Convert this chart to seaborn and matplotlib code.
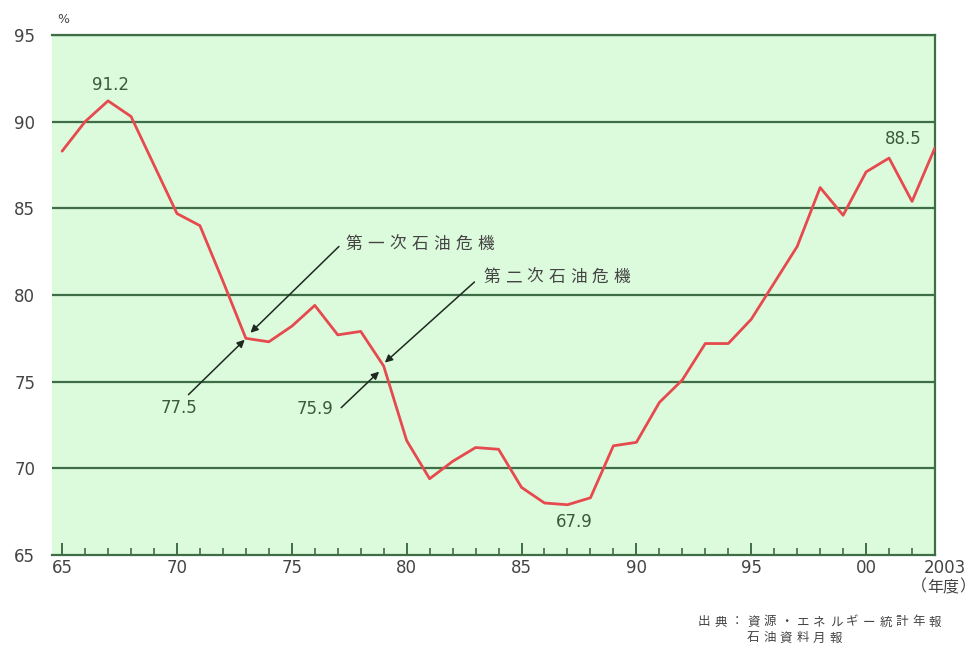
import matplotlib
matplotlib.use("Agg")
import matplotlib.pyplot as plt
import matplotlib.transforms as mtransforms
import seaborn as sns
import pandas as pd

# 原油の中東依存度（年度）
years = list(range(1965, 2004))
share = [88.3, 90.0, 91.2, 90.3, 87.5, 84.7, 84.0, 80.8, 77.5, 77.3,
         78.2, 79.4, 77.7, 77.9, 75.9, 71.6, 69.4, 70.4, 71.2, 71.1,
         68.9, 68.0, 67.9, 68.3, 71.3, 71.5, 73.8, 75.1, 77.2, 77.2,
         78.6, 80.7, 82.8, 86.2, 84.6, 87.1, 87.9, 85.4, 88.5]

y_ticks = [65, 70, 75, 80, 85, 90, 95]
x_major = [1965, 1970, 1975, 1980, 1985, 1990, 1995, 2000, 2003]
x_major_labels = ["65", "70", "75", "80", "85", "90", "95", "00", "2003"]

peak_labels = {1967: "91.2", 2003: "88.5", 1987: "67.9"}
crisis_labels = {1973: "77.5", 1979: "75.9"}
crisis_1 = "第一次石油危機"
crisis_2 = "第二次石油危機"
year_unit = ["（", "年度", "）"]
source_line1 = "出典：資源・エネルギー統計年報"
source_line2 = "石油資料月報"

sns.set_theme(style="white")
plt.rcParams["font.family"] = ["DejaVu Sans", "Noto Sans CJK JP"]
plt.rcParams["xtick.direction"] = "in"
JP = ["Noto Sans CJK JP", "DejaVu Sans"]

df = pd.DataFrame({"year": years, "share": share})
share_map = dict(zip(years, share))

grid_c = "#3e6e46"
text_c = "#444444"
label_c = "#3a5a40"
arrow_c = "#1e2a20"

fig = plt.figure(figsize=(9.75, 6.46), dpi=100)
ax = fig.add_axes([52 / 975, 91 / 646, 883 / 975, 520 / 646])
ax.set_facecolor("#dcfadc")

for yv in y_ticks[1:]:
    ax.axhline(yv, color=grid_c, lw=1.6, zorder=1)

sns.lineplot(data=df, x="year", y="share", ax=ax, color="#e64a4e",
             lw=2.0, zorder=3)

ax.set_xlim(1964.56, 2003)
ax.set_ylim(65, 95)
ax.set_xlabel("")
ax.set_ylabel("")

ax.spines["left"].set_visible(False)
for s in ["right", "bottom", "top"]:
    ax.spines[s].set_color(grid_c)
    ax.spines[s].set_linewidth(1.6)

ax.set_yticks(y_ticks)
ax.set_yticklabels([str(v) for v in y_ticks], fontsize=12, color=text_c)
ax.tick_params(axis="y", length=0, pad=12)

ax.set_xticks(x_major)
ax.set_xticklabels(x_major_labels, fontsize=12, color=text_c)
ax.set_xticks(years, minor=True)
ax.tick_params(axis="x", which="major", direction="in", length=9,
               width=1.4, color=grid_c, pad=3, bottom=True, top=False)
ax.tick_params(axis="x", which="minor", direction="in", length=5,
               width=1.2, color=grid_c, bottom=True, top=False)

# the final year label sits a little to the right of its tick
last = ax.get_xticklabels()[-1]
last.set_transform(last.get_transform() +
                   mtransforms.ScaledTranslation(0.10, 0, fig.dpi_scale_trans))

ax.text(1964.8, 95.5, "%", fontsize=9, color=text_c, ha="left",
        va="bottom")

# values at the peak, the trough and the latest year
ax.text(1967.1, 92.1, peak_labels[1967], fontsize=12, color=label_c,
        ha="center", va="center")
ax.text(2001.6, 89.0, peak_labels[2003], fontsize=12, color=label_c,
        ha="center", va="center")
ax.text(1987.3, 66.9, peak_labels[1987], fontsize=12, color=label_c,
        ha="center", va="center")
ax.text(1970.1, 73.5, crisis_labels[1973], fontsize=12, color=label_c,
        ha="center", va="center")
ax.text(1976.0, 73.4, crisis_labels[1979], fontsize=12, color=label_c,
        ha="center", va="center")

arrow = dict(arrowstyle="-|>", color=arrow_c, lw=1.1,
             mutation_scale=11, shrinkA=0, shrinkB=0)
ax.annotate("", xy=(1972.95, share_map[1973] - 0.08),
            xytext=(1970.5, 74.25), arrowprops=arrow)
ax.annotate("", xy=(1973.2, share_map[1973] + 0.32),
            xytext=(1977.05, 82.8), arrowprops=arrow)
ax.annotate("", xy=(1978.8, share_map[1979] - 0.32),
            xytext=(1977.15, 73.5), arrowprops=arrow)
ax.annotate("", xy=(1979.05, share_map[1979] + 0.2),
            xytext=(1982.95, 80.75), arrowprops=arrow)


def spaced_text(x, y, s, pitch, size, coords):
    """Write s one piece at a time with a fixed pixel pitch."""
    for i, ch in enumerate(s):
        ax.annotate(ch, xy=(x, y), xycoords=coords,
                    xytext=(i * pitch, 0), textcoords="offset pixels",
                    ha="center", va="center", fontsize=size,
                    color=text_c, family=JP, annotation_clip=False)


spaced_text(1977.7, 82.9, crisis_1, 22, 12, "data")
spaced_text(1983.7, 81.0, crisis_2, 21.7, 12, "data")
spaced_text(919 / 975, 1 - 587 / 646, year_unit, 24, 11.5,
            "figure fraction")
spaced_text(704 / 975, 1 - 622 / 646, source_line1, 16.5, 9,
            "figure fraction")
spaced_text(753 / 975, 1 - 638 / 646, source_line2, 16.5, 9,
            "figure fraction")

fig.savefig("out.png", dpi=100, facecolor="white")
